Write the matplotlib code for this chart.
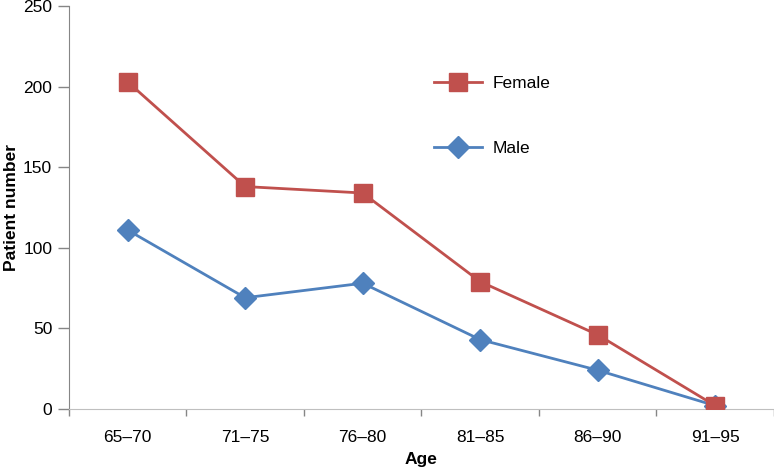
import matplotlib
matplotlib.use("Agg")
import matplotlib.pyplot as plt

### data
ages = ["65\u201370", "71\u201375", "76\u201380", "81\u201385", "86\u201390", "91\u201395"]
female = [203, 138, 134, 79, 46, 2]
male = [111, 69, 78, 43, 24, 2]

red = "#C0504D"
blue = "#4F81BD"
grey = "#868686"

plt.rcParams["font.family"] = ["Liberation Sans", "DejaVu Sans"]

fig = plt.figure(figsize=(7.74, 4.70), dpi=100)
ax = fig.add_axes([0.089, 0.130, 0.911, 0.857])

x = list(range(len(ages)))
ax.plot(x, male, color=blue, lw=2, marker="D", ms=11, mec=blue, mfc=blue, label="Male", zorder=3)
ax.plot(x, female, color=red, lw=2, marker="s", ms=13, mec=red, mfc=red, label="Female", zorder=4)

ax.set_xlim(-0.5, 5.5)
ax.set_ylim(0, 250)
ax.set_yticks([0, 50, 100, 150, 200, 250])
ax.set_xticks(x)
ax.set_xticklabels(ages)
ax.set_xticks([i - 0.5 for i in range(len(ages) + 1)], minor=True)
ax.tick_params(axis="x", which="major", length=0, labelsize=12.5, pad=15)
ax.tick_params(axis="x", which="minor", length=5, color=grey, width=1)
ax.tick_params(axis="y", length=8, color=grey, width=1, labelsize=12.5, pad=4)

for s in ["top", "right"]:
    ax.spines[s].set_visible(False)
ax.spines["left"].set_color(grey)
ax.spines["bottom"].set_color("#BFBFBF")

ax.set_xlabel("Age", fontweight="bold", fontsize=12.5, labelpad=5)
ax.set_ylabel("Patient number", fontweight="bold", fontsize=12.5, labelpad=3)

handles, labels = ax.get_legend_handles_labels()
ax.legend(handles[::-1], labels[::-1], loc="upper left", bbox_to_anchor=(0.540, 0.872),
          bbox_transform=fig.transFigure, frameon=False, fontsize=12.5,
          handlelength=2.8, labelspacing=2.9, handletextpad=0.6)

fig.savefig("out.png", dpi=100)
